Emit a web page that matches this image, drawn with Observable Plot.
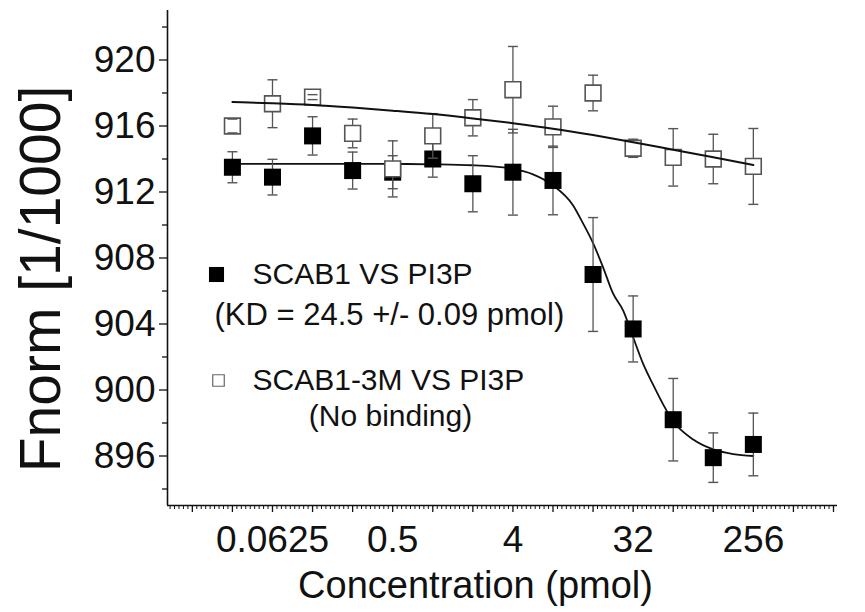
<!DOCTYPE html>
<html><head><meta charset="utf-8">
<script src="https://cdn.jsdelivr.net/npm/d3@7"></script>
<script src="https://cdn.jsdelivr.net/npm/@observablehq/plot@0.6"></script>
<style>body{margin:0;background:#fff}#chart{width:865px;height:612px}</style>
</head><body><div id="chart"></div>
<script>
// ---- data ----
const concentrations = [0.03125, 0.0625, 0.125, 0.25, 0.5, 1, 2, 4, 8, 16, 32, 64, 128, 256];
const scab1Values = [913.5, 912.9, 915.4, 913.3, 913.2, 914.0, 912.5, 913.2, 912.7, 907.0, 903.7, 898.2, 895.9, 896.7];
const scab1Errors = [0.94, 1.08, 1.16, 1.12, 1.0, 1.1, 1.7, 2.6, 2.08, 3.45, 2.0, 2.5, 1.5, 1.9];
const scab13mValues = [916.0, 917.35, 917.75, 915.55, 913.4, 915.4, 916.5, 918.2, 915.95, 918.0, 914.65, 914.1, 914.0, 913.55];
const scab13mErrors = [0.42, 1.45, 0.15, 0.87, 1.7, 1.35, 1.1, 2.62, 1.25, 1.08, 0.55, 1.74, 1.5, 2.3];
const scab1FitConc = [0.03125, 0.0625, 0.125, 0.25, 0.5, 1, 2, 4, 5.66, 8, 11.3, 13.45, 16, 19, 22.6, 27, 32, 38, 45, 54, 64, 90.5, 128, 181, 256];
const scab1FitValues = [913.7, 913.7, 913.7, 913.7, 913.7, 913.68, 913.62, 913.4, 913.07, 912.4, 911.2, 910.1, 908.9, 907.45, 905.85, 904.8, 903.2, 901.6, 900.35, 899.1, 898.1, 897.0, 896.4, 896.12, 896.0];
const scab13mFitConc = [0.03125, 0.0625, 0.125, 0.25, 0.5, 1, 2, 4, 8, 16, 32, 64, 128, 256];
const scab13mFitValues = [917.45, 917.38, 917.28, 917.12, 916.93, 916.72, 916.46, 916.17, 915.84, 915.45, 915.02, 914.56, 914.1, 913.64];
const xTickLabels = [0.0625, 0.5, 4, 32, 256];
const yTickLabels = [896, 900, 904, 908, 912, 916, 920];
const yMinorTicks = [894, 898, 902, 906, 910, 914, 918, 922];
const legendLabels = ["SCAB1 VS PI3P", "(KD = 24.5 +/- 0.09 pmol)", "SCAB1-3M VS PI3P", "(No binding)"];
const xTitle = "Concentration (pmol)";
const yTitle = "Fnorm [1/1000]";

// ---- build tables ----
const scab1 = concentrations.map((c, i) => ({c, v: scab1Values[i], e: scab1Errors[i]}));
const scab13m = concentrations.map((c, i) => ({c, v: scab13mValues[i], e: scab13mErrors[i]}));
const fit1 = scab1FitConc.map((c, i) => ({c, v: scab1FitValues[i]}));
const fit3m = scab13mFitConc.map((c, i) => ({c, v: scab13mFitValues[i]}));

const xDomain = [2 ** -6.62, 2 ** 10.1];
const yDomain = [893, 923];
const xMajor = d3.range(-6, 11).map(k => 2 ** k);
const xMinor = [];
for (let k = -7; k <= 10; k++) for (let j = 1; j <= 8; j++) {
  const v = 2 ** (k + j / 9);
  if (v > xDomain[0] && v < xDomain[1]) xMinor.push(v);
}

const capSymbol = {draw(ctx, size) { const r = Math.sqrt(size / Math.PI); ctx.moveTo(-r, 0); ctx.lineTo(r, 0); }};
const ink = "#111";
const errInk = "#555";

const chart = Plot.plot({
  width: 865, height: 612,
  marginLeft: 167, marginRight: 28, marginTop: 10, marginBottom: 107,
  x: {type: "log", base: 2, domain: xDomain},
  y: {domain: yDomain},
  style: {fontFamily: "'Liberation Sans', Arial, sans-serif", color: ink, background: "white", overflow: "visible"},
  marks: [
    // axes
    Plot.axisX(xMinor, {tickSize: 4, fill: "none", label: null, stroke: ink, strokeWidth: 1}),
    Plot.axisX(xMajor, {tickSize: 7, fill: "none", label: null, stroke: ink, strokeWidth: 1.3}),
    Plot.axisX(xTickLabels, {tickSize: 0, tickPadding: 20, fontSize: 37, tickFormat: d => String(d), label: null}),
    Plot.axisY(yMinorTicks, {tickSize: 5, fill: "none", label: null, stroke: ink, strokeWidth: 1.3}),
    Plot.axisY(yTickLabels, {tickSize: 8, tickPadding: 4, fontSize: 37, label: null, stroke: ink, strokeWidth: 1.3}),
    Plot.ruleY([yDomain[0]], {stroke: ink, strokeWidth: 1.6}),
    Plot.ruleX([xDomain[0]], {stroke: ink, strokeWidth: 1.6}),
    // SCAB1 fit + data
    Plot.line(fit1, {x: "c", y: "v", curve: "monotone-x", stroke: ink, strokeWidth: 1.8}),
    Plot.ruleX(scab1, {x: "c", y1: d => d.v - d.e, y2: d => d.v + d.e, stroke: errInk, strokeWidth: 1.3}),
    Plot.dot(scab1, {x: "c", y: d => d.v - d.e, symbol: capSymbol, r: 5, fill: "none", stroke: errInk, strokeWidth: 1.4}),
    Plot.dot(scab1, {x: "c", y: d => d.v + d.e, symbol: capSymbol, r: 5, fill: "none", stroke: errInk, strokeWidth: 1.4}),
    Plot.dot(scab1, {x: "c", y: "v", symbol: "square", r: 9.6, fill: "#000", stroke: "none"}),
    // SCAB1-3M data + fit
    Plot.ruleX(scab13m, {x: "c", y1: d => d.v - d.e, y2: d => d.v + d.e, stroke: errInk, strokeWidth: 1.3}),
    Plot.dot(scab13m, {x: "c", y: "v", symbol: "square", r: 8.9, fill: "white", stroke: "#555", strokeWidth: 1.6}),
    Plot.dot(scab13m, {x: "c", y: d => d.v - d.e, symbol: capSymbol, r: 5, fill: "none", stroke: errInk, strokeWidth: 1.4}),
    Plot.dot(scab13m, {x: "c", y: d => d.v + d.e, symbol: capSymbol, r: 5, fill: "none", stroke: errInk, strokeWidth: 1.4}),
    Plot.line(fit3m, {x: "c", y: "v", curve: "monotone-x", stroke: ink, strokeWidth: 2}),
    // legend
    Plot.dot([legendLabels[0]], {frameAnchor: "top-left", dx: 49, dy: 264, symbol: "square", r: 8.5, fill: "#000", stroke: "none"}),
    Plot.text([legendLabels[0]], {text: d => d, frameAnchor: "top-left", dx: 85, dy: 264, textAnchor: "start", lineAnchor: "middle", fontSize: 30, fill: ink}),
    Plot.text([legendLabels[1]], {text: d => d, frameAnchor: "top-left", dx: 47, dy: 305, textAnchor: "start", lineAnchor: "middle", fontSize: 31, fill: ink}),
    Plot.dot([legendLabels[2]], {frameAnchor: "top-left", dx: 51, dy: 370, symbol: "square", r: 6.5, fill: "white", stroke: "#666", strokeWidth: 1.2}),
    Plot.text([legendLabels[2]], {text: d => d, frameAnchor: "top-left", dx: 85, dy: 370, textAnchor: "start", lineAnchor: "middle", fontSize: 30, fill: ink}),
    Plot.text([legendLabels[3]], {text: d => d, frameAnchor: "top-left", dx: 223, dy: 406, textAnchor: "middle", lineAnchor: "middle", fontSize: 30, fill: ink}),
    // titles
    Plot.text([xTitle], {text: d => d, frameAnchor: "bottom", dx: -27, dy: 92, textAnchor: "middle", lineAnchor: "bottom", fontSize: 38, fill: ink}),
    Plot.text([yTitle], {text: d => d, frameAnchor: "left", dx: -108, dy: 21, rotate: -90, textAnchor: "middle", lineAnchor: "bottom", fontSize: 57, fill: ink})
  ]
});
document.getElementById("chart").appendChild(chart);
</script>
</body></html>
